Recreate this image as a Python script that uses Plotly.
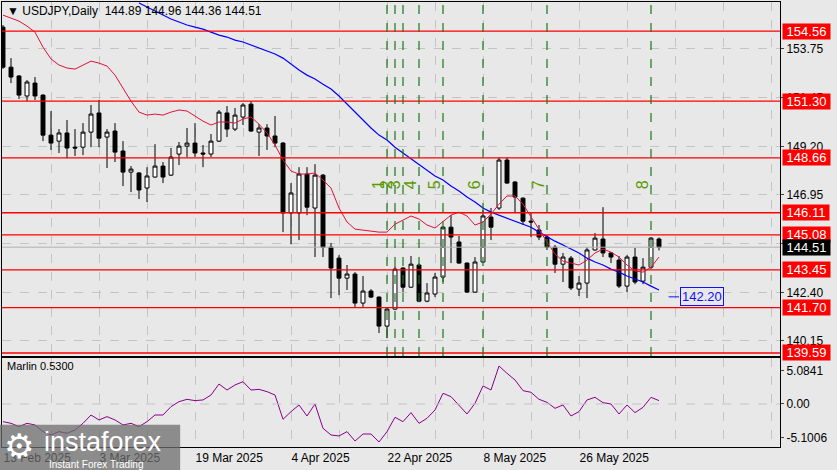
import pandas as pd
import plotly.graph_objects as go

# USDJPY daily bars
dates = pd.bdate_range(end="2025-06-09", periods=83)
opens = [154.74, 152.88, 152.47, 151.54, 152.14, 151.58, 149.72, 149.44, 149.82, 149.16,
         149.16, 149.86, 150.75, 149.63, 149.91, 148.98, 148.00, 147.96, 147.26, 147.77,
         148.28, 147.86, 148.84, 149.21, 149.35, 148.89, 148.84, 149.44, 150.75, 150.00,
         150.56, 151.16, 149.86, 150.05, 149.68, 149.35, 146.10, 146.10, 147.91, 146.33,
         147.86, 144.51, 144.00, 143.07, 143.26, 141.91, 142.47, 142.19, 140.84, 141.63,
         143.54, 142.65, 143.68, 142.00, 142.33, 143.12, 145.44, 144.75, 143.77, 142.42,
         143.82, 145.91, 146.33, 148.56, 147.54, 146.79, 145.72, 145.31, 144.98, 144.51,
         143.72, 144.00, 142.56, 142.84, 144.38, 144.89, 144.24, 143.91, 142.70, 144.05,
         142.93, 143.58, 144.89]
highs = [154.84, 153.30, 152.51, 152.28, 152.42, 151.62, 150.84, 150.00, 150.42, 150.00,
         150.28, 151.12, 151.35, 150.00, 150.28, 149.44, 148.28, 148.00, 148.23, 149.30,
         148.47, 149.12, 149.40, 150.05, 150.28, 149.26, 149.77, 150.89, 151.07, 150.98,
         151.21, 151.30, 150.23, 150.23, 150.61, 149.40, 147.49, 148.23, 148.23, 148.37,
         147.91, 144.70, 144.14, 143.68, 143.35, 143.17, 142.56, 142.22, 141.68, 143.63,
         143.58, 144.10, 143.75, 142.84, 143.31, 145.48, 146.00, 145.03, 143.80, 144.05,
         146.24, 146.33, 148.70, 148.70, 147.58, 146.82, 146.14, 145.54, 145.07, 144.61,
         144.24, 144.10, 143.17, 144.51, 145.17, 146.37, 144.28, 144.10, 144.14, 144.47,
         144.00, 144.98, 144.96]
lows = [152.80, 152.14, 151.40, 151.30, 151.35, 149.44, 149.03, 148.89, 148.65, 148.75,
        148.79, 149.16, 149.16, 148.19, 148.47, 147.35, 147.07, 146.75, 146.61, 147.74,
        147.49, 147.82, 148.33, 148.70, 148.70, 148.23, 148.70, 149.40, 149.63, 149.91,
        150.19, 149.88, 148.75, 149.03, 149.16, 145.21, 144.65, 144.84, 146.00, 144.05,
        144.05, 142.14, 142.28, 142.52, 141.72, 141.68, 142.14, 140.52, 140.28, 141.59,
        142.42, 142.62, 141.95, 141.95, 142.19, 142.89, 143.77, 143.74, 142.38, 142.40,
        143.80, 144.84, 146.24, 147.46, 146.14, 145.54, 144.98, 144.84, 144.38, 143.31,
        142.89, 142.52, 142.24, 142.14, 144.35, 144.05, 143.77, 142.61, 142.42, 142.79,
        142.79, 143.49, 144.36]
closes = [152.88, 152.42, 151.58, 152.19, 151.54, 149.72, 149.35, 149.82, 149.12, 149.12,
          149.86, 150.70, 149.58, 149.86, 148.93, 148.00, 148.14, 147.17, 147.82, 148.28,
          147.77, 148.70, 149.21, 149.35, 148.89, 148.84, 149.44, 150.79, 150.00, 150.65,
          151.12, 149.91, 150.05, 149.68, 149.35, 146.10, 147.03, 147.91, 146.37, 147.86,
          144.51, 143.54, 143.07, 143.26, 141.91, 142.47, 142.19, 140.84, 141.63, 143.49,
          142.65, 143.72, 142.00, 142.38, 143.12, 145.44, 144.98, 143.77, 142.42, 143.82,
          145.96, 145.44, 148.56, 147.49, 146.84, 145.72, 145.68, 144.98, 144.51, 143.72,
          144.05, 142.61, 142.84, 144.38, 144.93, 144.24, 144.05, 142.70, 144.05, 142.89,
          143.58, 144.93, 144.51]

ma_fast = [155.30, 155.16, 155.02, 154.79, 154.51, 153.81, 153.26, 152.98, 152.84, 152.79,
           152.98, 153.16, 153.07, 152.93, 152.51, 151.91, 151.30, 150.79, 150.65, 150.70,
           150.65, 150.79, 150.89, 150.84, 150.61, 150.37, 150.19, 150.33, 150.33, 150.28,
           150.47, 150.56, 150.23, 149.82, 149.26, 148.56, 148.05, 147.91, 147.91, 147.96,
           147.63, 147.26, 146.33, 145.68, 145.35, 145.31, 145.26, 145.21, 145.21, 145.58,
           145.77, 145.96, 145.82, 145.54, 145.40, 145.68, 146.00, 146.14, 145.96, 145.54,
           145.68, 146.05, 146.51, 146.89, 146.89, 146.51, 145.91, 145.31, 144.75, 144.19,
           143.86, 143.77, 143.68, 143.91, 144.24, 144.42, 144.28, 144.05, 143.68, 143.40,
           143.35, 143.58, 144.05]
ma_slow = [None] * 17 + [
           155.86, 155.67, 155.49, 155.30, 155.12, 154.98, 154.84, 154.74, 154.65, 154.51,
           154.37, 154.28, 154.14, 154.05, 153.91, 153.77, 153.63, 153.49, 153.30, 153.02,
           152.75, 152.51, 152.33, 152.09, 151.86, 151.54, 151.16, 150.79, 150.42, 150.05,
           149.72, 149.49, 149.16, 148.89, 148.61, 148.37, 148.10, 147.82, 147.63, 147.35,
           147.12, 146.84, 146.61, 146.33, 146.14, 146.00, 145.86, 145.72, 145.58, 145.44,
           145.21, 144.98, 144.79, 144.61, 144.42, 144.24, 144.00, 143.82, 143.68, 143.49,
           143.35, 143.17, 143.03, 142.89, 142.70, 142.52]

marlin = [-2.68, -2.93, -3.43, -2.93, -3.18, -4.19, -4.70, -4.19, -4.44, -3.94,
          -2.93, -1.67, -2.42, -1.92, -2.42, -3.18, -2.93, -3.43, -2.68, -1.67,
          -1.67, -0.40, 0.35, 0.71, 0.51, 0.61, 1.36, 3.03, 2.12, 2.88,
          3.38, 2.12, 2.22, 1.87, 1.36, -2.32, -1.16, -0.15, -1.82, 0.00,
          -3.69, -4.70, -4.85, -4.19, -5.61, -4.55, -4.55, -5.76, -4.19, -2.02,
          -2.68, -1.31, -2.93, -2.17, -0.91, 1.62, 1.11, -0.15, -1.52, 0.10,
          2.73, 2.12, 5.76, 4.65, 3.64, 2.02, 1.77, 0.71, 0.25, -0.66,
          -0.15, -1.82, -1.16, 0.61, 1.01, 0.20, 0.00, -1.52, -0.15, -1.31,
          -0.51, 1.01, 0.51]

levels = [154.56, 151.30, 148.66, 146.11, 145.08, 143.45, 141.70, 139.59]
grid_prices = [153.75, 151.45, 149.20, 146.95, 144.70, 142.40, 140.15]
wave_bars = [48, 49, 50, 52, 55, 60, 68, 81]
wave_labels = ["1", "2", "3", "4", "5", "6", "7", "8"]
label_every = 12
trend_label = 142.20

x = list(range(len(dates)))
date_text = [f"{d.day} {d.strftime('%b %Y')}" for d in dates]
grid_x = list(range(0, 98, 6))
grid_text = [date_text[i] if i < len(dates) and i % label_every == 0 else "" for i in grid_x]

fig = go.Figure()
fig.add_trace(go.Scatter(x=x, y=ma_slow, mode="lines", line=dict(color="#0000ff", width=1.2),
                         hoverinfo="skip", xaxis="x", yaxis="y"))
fig.add_trace(go.Scatter(x=x, y=ma_fast, mode="lines", line=dict(color="#e0103c", width=1),
                         hoverinfo="skip", xaxis="x", yaxis="y"))
fig.add_trace(go.Candlestick(x=x, open=opens, high=highs, low=lows, close=closes,
                             increasing=dict(line=dict(color="black", width=1), fillcolor="white"),
                             decreasing=dict(line=dict(color="black", width=1), fillcolor="black"),
                             whiskerwidth=0, xaxis="x", yaxis="y"))
fig.add_trace(go.Scatter(x=x, y=marlin, mode="lines", line=dict(color="#8b008b", width=1),
                         xaxis="x2", yaxis="y2"))

# horizontal support / resistance levels
for lv in levels:
    fig.add_shape(type="line", xref="paper", x0=0, x1=1, yref="y", y0=lv, y1=lv,
                  line=dict(color="red", width=1.3))
    fig.add_annotation(xref="paper", x=1.003, yref="y", y=lv, text=f" {lv:.2f} ", showarrow=False,
                       xanchor="left", bgcolor="red", font=dict(color="white", size=13),
                       borderpad=0)
fig.add_shape(type="line", xref="paper", x0=0, x1=1, yref="y", y0=closes[-1], y1=closes[-1],
              line=dict(color="#b0b0b0", width=1))
fig.add_annotation(xref="paper", x=1.003, yref="y", y=closes[-1], text=f" {closes[-1]:.2f} ",
                   showarrow=False, xanchor="left", bgcolor="black",
                   font=dict(color="white", size=13), borderpad=0)

# wave count markers
for b, t in zip(wave_bars, wave_labels):
    fig.add_shape(type="line", xref="x", x0=b, x1=b, yref="paper", y0=0.2045, y1=1,
                  line=dict(color="#187818", width=1.2, dash="dash"))
    fig.add_annotation(x=b - 1.1, y=147.4, xref="x", yref="y", text=t, showarrow=False,
                       textangle=-90, font=dict(color="#5a9a00", size=16))

# trend line projection label
fig.add_shape(type="line", xref="x", x0=83.2, x1=84.5, yref="y", y0=trend_label, y1=trend_label,
              line=dict(color="#1010ff", width=1))
fig.add_annotation(x=84.6, y=trend_label, xref="x", yref="y", text=f"{trend_label:.2f}",
                   showarrow=False, xanchor="left", bordercolor="#1010ff", borderwidth=1,
                   borderpad=1, bgcolor="#e8e8e8", font=dict(color="#1010ff", size=13))

fig.add_annotation(xref="paper", yref="paper", x=0.004, y=1.0, yanchor="top", xanchor="left",
                   text="▼ USDJPY,Daily  144.89 144.96 144.36 144.51", showarrow=False,
                   font=dict(size=12, color="black"))
fig.add_annotation(xref="paper", yref="paper", x=0.004, y=0.2, yanchor="top", xanchor="left",
                   text="Marlin 0.5300", showarrow=False, font=dict(size=11, color="black"))

# logo watermark
fig.add_shape(type="rect", xref="paper", yref="paper", x0=-0.003, x1=0.229, y0=-0.052, y1=0.05,
              fillcolor="rgba(110,110,110,0.75)", line=dict(width=0), layer="above")
fig.add_annotation(xref="paper", yref="paper", x=0.0, y=0.05, yanchor="top", xanchor="left",
                   text="⚙", showarrow=False, font=dict(size=34, color="white"))
fig.add_annotation(xref="paper", yref="paper", x=0.052, y=0.05, yanchor="top", xanchor="left",
                   text="instaforex", showarrow=False, font=dict(size=27, color="white"))
fig.add_annotation(xref="paper", yref="paper", x=0.058, y=-0.022, yanchor="top", xanchor="left",
                   text="Instant Forex Trading", showarrow=False, font=dict(size=10, color="white"))

axis_common = dict(showline=True, linecolor="black", mirror=True, zeroline=False,
                   gridcolor="#c4c4c4", griddash="dash", gridwidth=1, automargin=False)
fig.update_layout(
    width=837, height=470, margin=dict(l=2, r=57, t=2, b=23, autoexpand=False),
    paper_bgcolor="#e8e8e8", plot_bgcolor="#e8e8e8", showlegend=False,
    font=dict(family="Liberation Sans, Arial", size=12, color="black"),
    xaxis=dict(axis_common, range=[-0.125, 97.125], tickvals=grid_x, showticklabels=False,
               rangeslider=dict(visible=False), anchor="y", ticks=""),
    yaxis=dict(axis_common, domain=[0.2045, 1], range=[139.45, 155.91], side="right",
               tickvals=grid_prices, ticktext=[f"{p:.2f}" for p in grid_prices],
               ticks="outside", ticklen=3, anchor="x"),
    xaxis2=dict(axis_common, range=[-0.125, 97.125], tickvals=grid_x, ticktext=grid_text,
                anchor="y2", ticks="", ticklabelposition="outside right"),
    yaxis2=dict(axis_common, domain=[0, 0.2], range=[-6.52, 6.97], side="right",
                tickvals=[5.0841, 0, -5.1006], ticktext=["5.0841", "0.00", "-5.1006"],
                ticks="outside", ticklen=3, anchor="x2", showgrid=False),
)
fig.add_shape(type="line", xref="paper", x0=0, x1=1, yref="y2", y0=0, y1=0,
              line=dict(color="#c4c4c4", width=1, dash="dash"))

# drop the default page margin so the figure sits at the window's corner
fig.write_html("out.html", config={"displayModeBar": False},
               post_script="document.body.style.margin='0';")
